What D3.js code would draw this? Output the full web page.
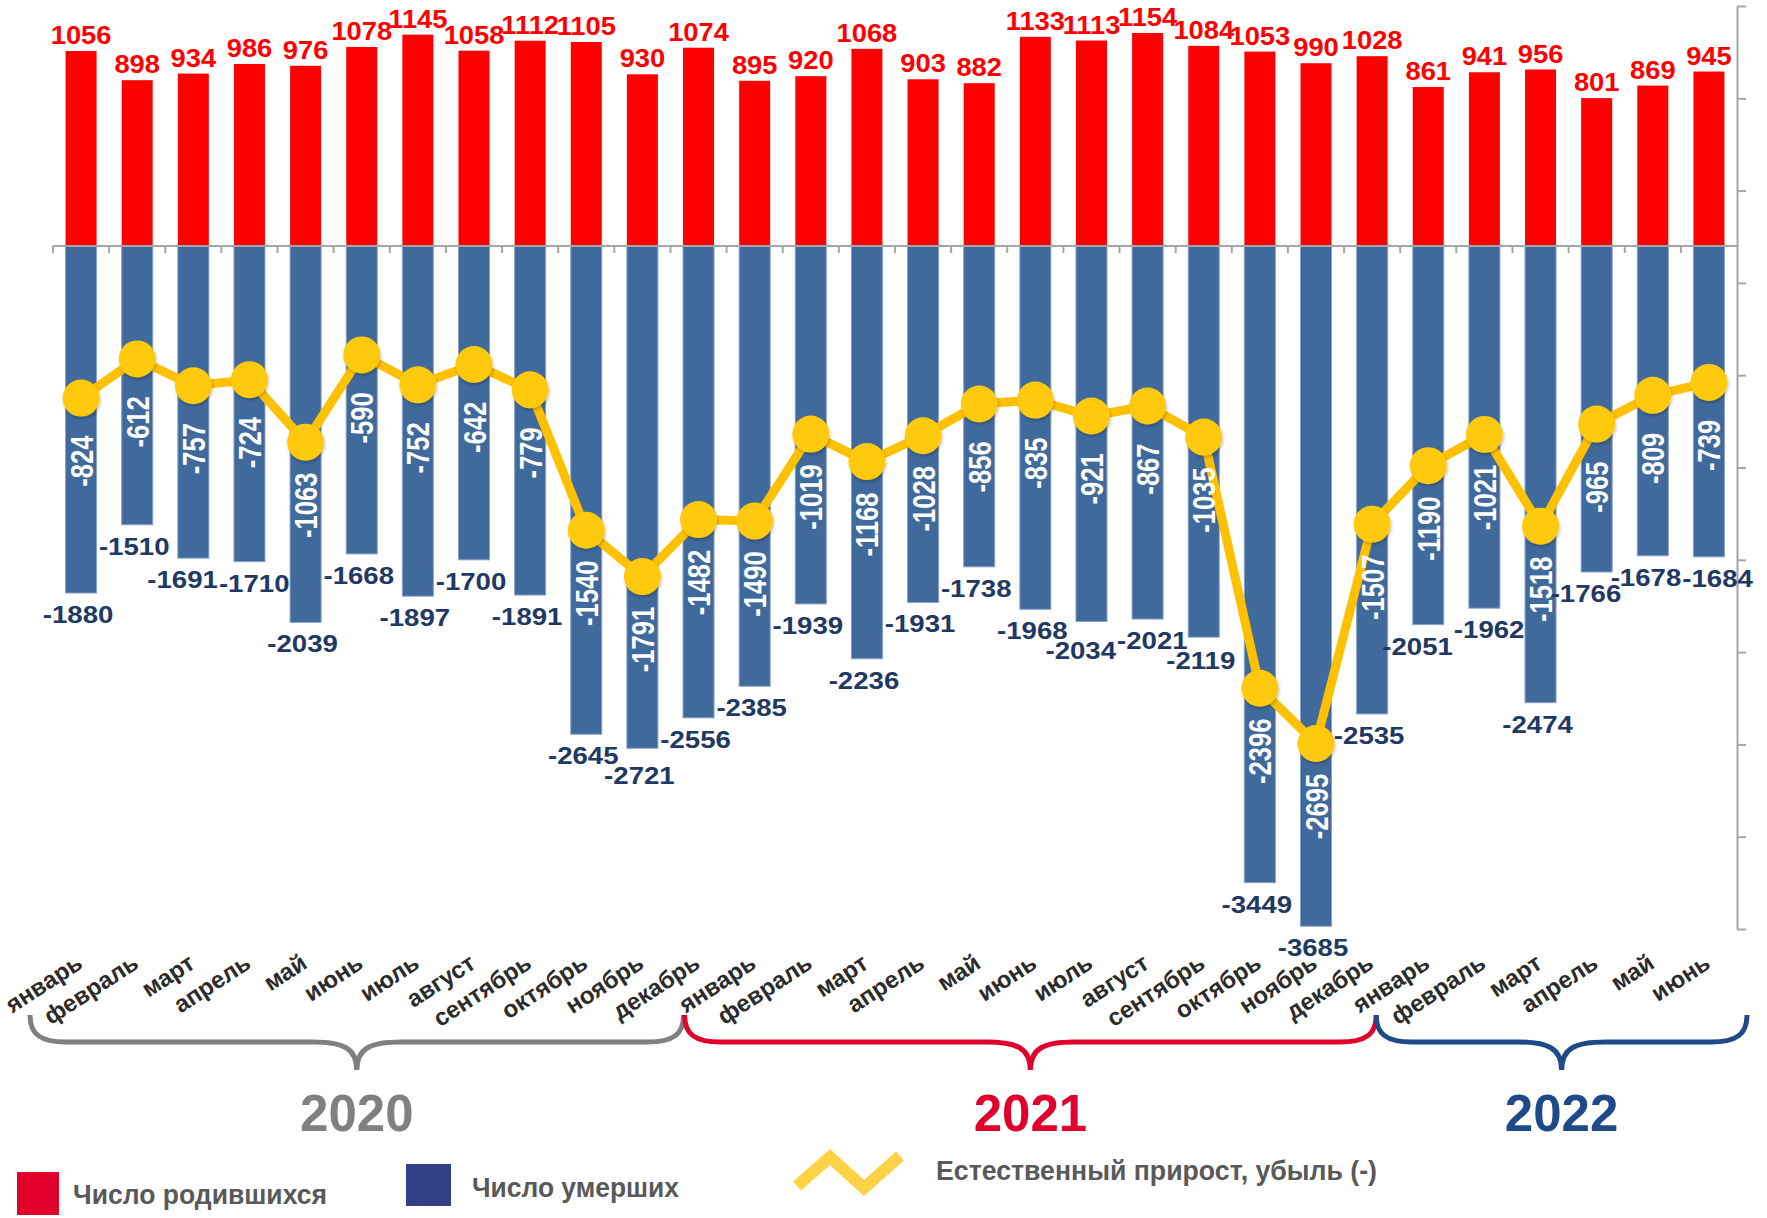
<!DOCTYPE html>
<html>
<head>
<meta charset="utf-8">
<script src="https://cdn.jsdelivr.net/npm/d3@7"></script>
<style>
  body { margin: 0; background: #fff; }
  svg text { font-family: "Liberation Sans", Arial, sans-serif; }
</style>
</head>
<body>
<div id="chart"></div>
<script>
// months Jan 2020 .. Jun 2022
const months = ["январь", "февраль", "март", "апрель", "май", "июнь", "июль", "август", "сентябрь", "октябрь", "ноябрь", "декабрь",
    "январь", "февраль", "март", "апрель", "май", "июнь", "июль", "август", "сентябрь", "октябрь", "ноябрь", "декабрь",
    "январь", "февраль", "март", "апрель", "май", "июнь"];

const births = [1056, 898, 934, 986, 976, 1078, 1145, 1058, 1112, 1105, 930, 1074,
    895, 920, 1068, 903, 882, 1133, 1113, 1154, 1084, 1053, 990, 1028,
    861, 941, 956, 801, 869, 945];

const deaths = [-1880, -1510, -1691, -1710, -2039, -1668, -1897, -1700, -1891, -2645, -2721, -2556,
    -2385, -1939, -2236, -1931, -1738, -1968, -2034, -2021, -2119, -3449, -3685, -2535,
    -2051, -1962, -2474, -1766, -1678, -1684];

const growth = [-824, -612, -757, -724, -1063, -590, -752, -642, -779, -1540, -1791, -1482,
    -1490, -1019, -1168, -1028, -856, -835, -921, -867, -1035, -2396, -2695, -1507,
    -1190, -1021, -1518, -965, -809, -739];

const years = ["2020", "2021", "2022"];
const yearColors = ["#808080", "#E1002B", "#1F4A87"];

const axisTicks = [-3700, -3200, -2700, -2200, -1700, -1200, -700, -200, 300, 800, 1300];

const legendLabels = ["Число родившихся", "Число умерших", "Естественный прирост, убыль (-)"];

const W = 1767, H = 1218;
const svg = d3.select("#chart").append("svg")
    .attr("width", W)
    .attr("height", H);

const defs = svg.append("defs");
const shadow = defs.append("filter").attr("id", "shadow")
    .attr("x", "-50%").attr("y", "-50%").attr("width", "200%").attr("height", "200%");
shadow.append("feDropShadow")
    .attr("dx", 1).attr("dy", 2).attr("stdDeviation", 1.5)
    .attr("flood-color", "#000").attr("flood-opacity", 0.25);

const x = d3.scaleBand()
    .domain(d3.range(months.length))
    .range([53, 1737])
    .padding(0);
const y = d3.scaleLinear()
    .domain([-3700, 1300])
    .range([929, 6]);

const cx = i => x(i) + x.bandwidth() / 2;
const barW = 31;

// births (red) and deaths (blue)
svg.append("g").selectAll("rect")
    .data(births)
    .enter().append("rect")
    .attr("x", (d, i) => cx(i) - barW / 2)
    .attr("y", d => y(d))
    .attr("width", barW)
    .attr("height", d => y(0) - y(d))
    .attr("fill", "#FF0000");

svg.append("g").selectAll("rect")
    .data(deaths)
    .enter().append("rect")
    .attr("x", (d, i) => cx(i) - barW / 2)
    .attr("y", y(0))
    .attr("width", barW)
    .attr("height", d => y(d) - y(0))
    .attr("fill", "#406A9C")
    .attr("stroke", "#86A0C6")
    .attr("stroke-width", 1);

// category axis on zero
const axisColor = "#A6A6A6";
svg.append("line")
    .attr("x1", x.range()[0]).attr("x2", x.range()[1])
    .attr("y1", y(0)).attr("y2", y(0))
    .attr("stroke", axisColor).attr("stroke-width", 2);
svg.append("g").selectAll("line")
    .data(d3.range(months.length))
    .enter().append("line")
    .attr("x1", i => x(i)).attr("x2", i => x(i))
    .attr("y1", y(0)).attr("y2", y(0) + 7)
    .attr("stroke", axisColor).attr("stroke-width", 2);

// value axis on the right, no labels
const yAxis = svg.append("g")
    .attr("transform", `translate(${x.range()[1]},0)`)
    .call(d3.axisRight(y).tickValues(axisTicks).tickFormat("").tickSize(9).tickSizeOuter(0));
yAxis.select(".domain").attr("stroke", axisColor).attr("stroke-width", 2);
yAxis.selectAll(".tick line").attr("stroke", axisColor).attr("stroke-width", 2);

// natural growth line
const line = d3.line()
    .x((d, i) => cx(i))
    .y(d => y(d));
svg.append("path")
    .datum(growth)
    .attr("d", line)
    .attr("fill", "none")
    .attr("stroke", "#FFC000")
    .attr("stroke-width", 9)
    .attr("stroke-linejoin", "round");
svg.append("g").selectAll("circle")
    .data(growth)
    .enter().append("circle")
    .attr("cx", (d, i) => cx(i))
    .attr("cy", d => y(d))
    .attr("r", 18.5)
    .attr("fill", "#FFC90A")
    .attr("filter", "url(#shadow)");

// growth labels, rotated inside the blue bars
svg.append("g").selectAll("text")
    .data(growth)
    .enter().append("text")
    .attr("transform", (d, i) => `translate(${cx(i)},${y(d) + 63}) rotate(-90) scale(0.8,1)`)
    .attr("text-anchor", "middle")
    .attr("dy", "0.36em")
    .attr("font-size", 32)
    .attr("font-weight", "bold")
    .attr("fill", "#fff")
    .text(d => d);

// births labels
svg.append("g").selectAll("text")
    .data(births)
    .enter().append("text")
    .attr("transform", (d, i) => `translate(${cx(i)},${y(d) - 7}) scale(1.05,1)`)
    .attr("text-anchor", "middle")
    .attr("font-size", 26)
    .attr("font-weight", "bold")
    .attr("fill", "#FF0000")
    .text(d => d);

// deaths labels: below bar ends; neighbours that collide get nudged down or sideways
const dScale = 1.15, dSize = 24, gapY = 20;
const deathLabels = svg.append("g").selectAll("text")
    .data(deaths)
    .enter().append("text")
    .attr("text-anchor", "middle")
    .attr("font-size", dSize)
    .attr("font-weight", "bold")
    .attr("fill", "#1F3864")
    .text(d => d);
const boxes = deaths.map((d, i) => ({x: cx(i) - 3, base: y(d) + 30, w: 0}));
deathLabels.each(function (d, i) { boxes[i].w = this.getComputedTextLength() * dScale; });
for (let i = 1; i < boxes.length; i++) {
    const a = boxes[i - 1], b = boxes[i];
    const dy = b.base - a.base;
    if (Math.abs(dy) >= gapY) continue;
    const overlap = (a.x + a.w / 2) - (b.x - b.w / 2) + 1;
    if (overlap <= 0) continue;
    if (dy >= 8) {
        b.base = a.base + gapY;
    } else {
        a.x -= overlap / 2;
        b.x += overlap / 2;
    }
}
deathLabels.attr("transform", (d, i) => `translate(${boxes[i].x},${boxes[i].base}) scale(${dScale},1)`);

// month labels
svg.append("g").selectAll("text")
    .data(months)
    .enter().append("text")
    .attr("transform", (d, i) => `translate(${cx(i) + 3},967) rotate(-33)`)
    .attr("text-anchor", "end")
    .attr("font-size", 24)
    .attr("font-weight", "bold")
    .attr("fill", "#2B2B2B")
    .text(d => d);

// year braces
const bnd = i => x.range()[0] + x.step() * i;
const spans = [[bnd(0) - 23, bnd(12) - 43], [bnd(12) - 42, bnd(24) - 24], [bnd(24) - 24, bnd(30) + 10]];
function brace(x0, x1) {
    const top = 1015, mid = 1042, tip = 1070, r = 36, t = 44;
    const m = (x0 + x1) / 2;
    return `M${x0},${top} C${x0},${mid - 8} ${x0 + 10},${mid} ${x0 + r},${mid}` +
        ` L${m - t},${mid} C${m - 14},${mid} ${m},${mid + 6} ${m},${tip}` +
        ` C${m},${mid + 6} ${m + 14},${mid} ${m + t},${mid}` +
        ` L${x1 - r},${mid} C${x1 - 10},${mid} ${x1},${mid - 8} ${x1},${top}`;
}
years.forEach((yr, k) => {
    const [x0, x1] = spans[k];
    svg.append("path")
        .attr("d", brace(x0, x1))
        .attr("fill", "none")
        .attr("stroke", yearColors[k])
        .attr("stroke-width", 5);
    svg.append("text")
        .attr("x", (x0 + x1) / 2)
        .attr("y", 1131)
        .attr("text-anchor", "middle")
        .attr("font-size", 51)
        .attr("font-weight", "bold")
        .attr("fill", yearColors[k])
        .text(yr);
});

// legend
const lg = svg.append("g");
lg.append("rect").attr("x", 17).attr("y", 1172).attr("width", 42).attr("height", 43).attr("fill", "#E0002A");
lg.append("text").attr("x", 73).attr("y", 1204)
    .attr("textLength", 254).attr("lengthAdjust", "spacingAndGlyphs")
    .attr("font-size", 28).attr("font-weight", "bold").attr("fill", "#595959")
    .text(legendLabels[0]);
lg.append("rect").attr("x", 406).attr("y", 1164).attr("width", 45).attr("height", 42).attr("fill", "#333F86");
lg.append("text").attr("x", 472).attr("y", 1197)
    .attr("textLength", 207).attr("lengthAdjust", "spacingAndGlyphs")
    .attr("font-size", 28).attr("font-weight", "bold").attr("fill", "#595959")
    .text(legendLabels[1]);
lg.append("polyline")
    .attr("points", "797,1186 830,1157 864,1188 900,1156")
    .attr("fill", "none")
    .attr("stroke", "#FFD145")
    .attr("stroke-width", 12);
lg.append("text").attr("x", 936).attr("y", 1180)
    .attr("textLength", 441).attr("lengthAdjust", "spacingAndGlyphs")
    .attr("font-size", 28).attr("font-weight", "bold").attr("fill", "#595959")
    .text(legendLabels[2]);
</script>
</body>
</html>
